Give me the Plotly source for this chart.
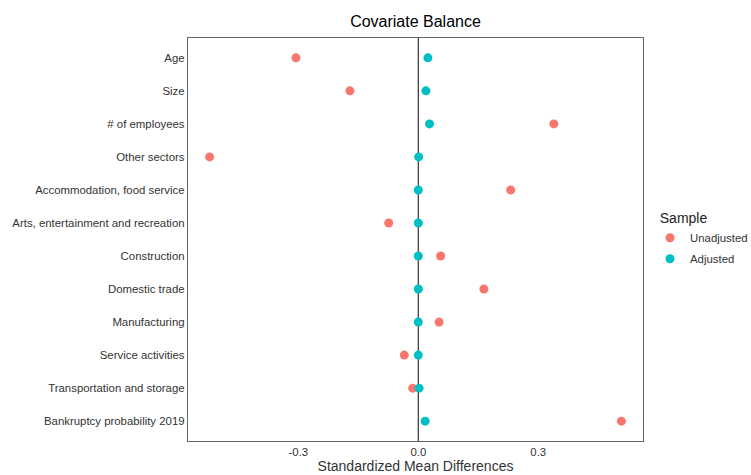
import plotly.graph_objects as go

# Covariates, top to bottom
covariates = [
    "Age",
    "Size",
    "# of employees",
    "Other sectors",
    "Accommodation, food service",
    "Arts, entertainment and recreation",
    "Construction",
    "Domestic trade",
    "Manufacturing",
    "Service activities",
    "Transportation and storage",
    "Bankruptcy probability 2019",
]

# Standardized mean differences before and after adjustment
smd_unadjusted = [-0.306, -0.171, 0.339, -0.522, 0.231, -0.074, 0.056, 0.164, 0.052, -0.035, -0.014, 0.508]
smd_adjusted = [0.024, 0.019, 0.028, 0.001, 0.0, 0.0, 0.0, 0.0, 0.0, 0.0, 0.002, 0.017]

x_ticks = [-0.3, 0.0, 0.3]
x_tick_labels = ["-0.3", "0.0", "0.3"]

FONT = "Liberation Sans, Arial, sans-serif"

fig = go.Figure()

fig.add_trace(go.Scatter(
    x=smd_unadjusted, y=covariates, mode="markers", name="Unadjusted",
    legendgroup="unadjusted",
    marker=dict(color="#F8766D", size=9, line=dict(width=0)),
))
fig.add_trace(go.Scatter(
    x=smd_adjusted, y=covariates, mode="markers", name="Adjusted",
    legendgroup="adjusted",
    marker=dict(color="#00BFC4", size=9, line=dict(width=0)),
))

# vertical reference line at zero
fig.add_shape(type="line", xref="x", yref="paper", x0=0, x1=0, y0=0, y1=1,
              line=dict(color="#333333", width=1.2), layer="below")

fig.update_layout(
    width=751, height=475,
    margin=dict(l=188, r=108, t=38, b=34, autoexpand=False),
    paper_bgcolor="white", plot_bgcolor="white",
    font=dict(family=FONT, color="#333333"),
    title=dict(text="Covariate Balance", x=(188 + 643) / 2 / 751, xanchor="center",
               y=1 - 21 / 475, yanchor="middle", font=dict(size=16, color="black")),
    xaxis=dict(
        range=[-0.576, 0.562], tickvals=x_ticks, ticktext=x_tick_labels,
        showgrid=False, zeroline=False, ticks="", ticklen=0, automargin=False,
        tickfont=dict(size=11.4, color="#333333"),
        title=dict(text="Standardized Mean Differences", font=dict(size=14, color="#333333"), standoff=2),
        showline=True, linecolor="#666666", linewidth=1.3, mirror=True,
    ),
    yaxis=dict(
        categoryorder="array", categoryarray=covariates,
        autorange=False, range=[11.6, -0.6], automargin=False,
        showgrid=False, zeroline=False, ticks="",
        tickfont=dict(size=11.4, color="#333333"),
        showline=True, linecolor="#666666", linewidth=1.3, mirror=True,
    ),
    legend=dict(
        title=dict(text="&nbsp;&nbsp;Sample", font=dict(size=14, color="#222222")),
        x=(650 - 188) / 455, xanchor="left", y=1 - (205 - 38) / 403, yanchor="top",
        font=dict(size=11.4, color="#333333"), bgcolor="rgba(0,0,0,0)",
        tracegroupgap=2, itemwidth=30,
    ),
    showlegend=True,
)

# panel label above the figure, mostly cut off by the page edge
fig.add_annotation(text="(b)", xref="paper", yref="paper",
                   x=(249 - 188) / 455, y=1 + (38 + 4) / 403, yanchor="bottom",
                   showarrow=False, font=dict(size=16, color="#333333"))

fig.write_html("out.html")
